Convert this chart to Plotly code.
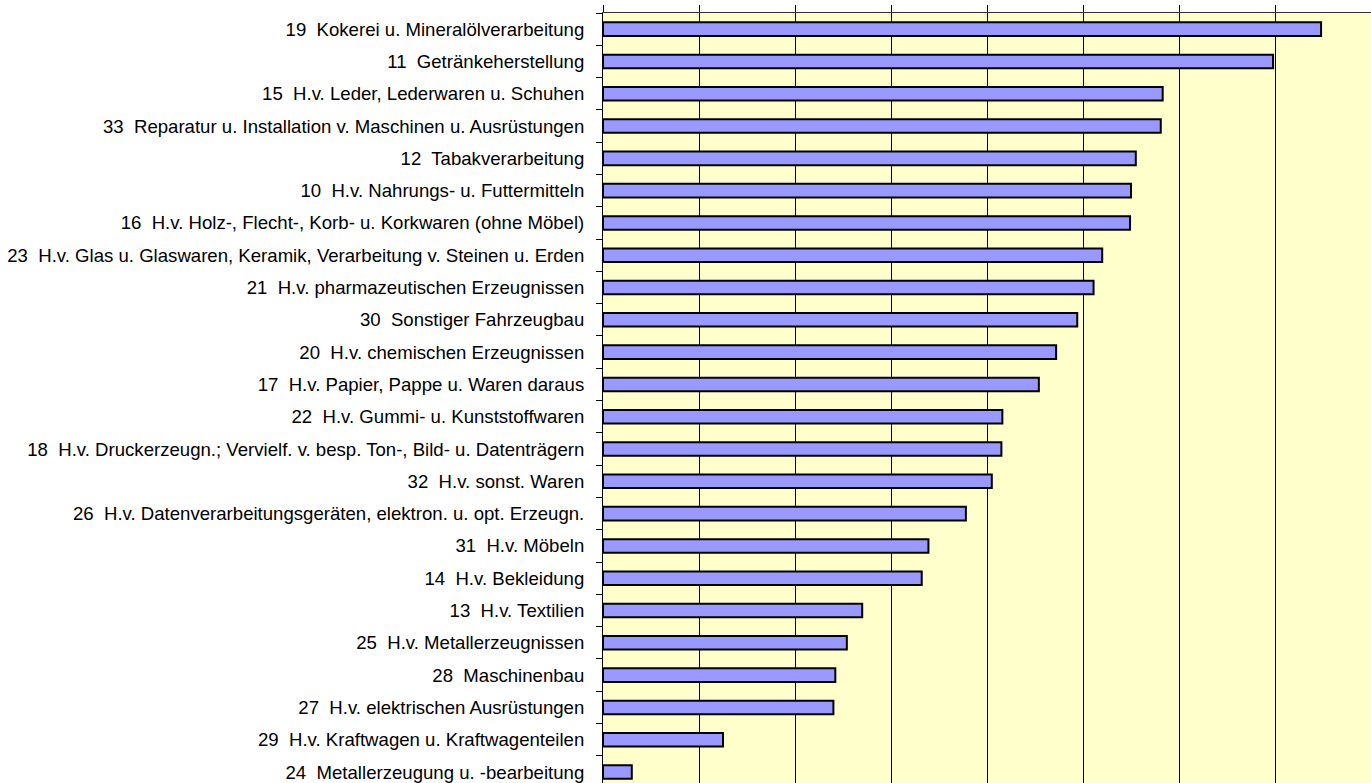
import plotly.graph_objects as go

categories = [
    "19  Kokerei u. Mineralölverarbeitung",
    "11  Getränkeherstellung",
    "15  H.v. Leder, Lederwaren u. Schuhen",
    "33  Reparatur u. Installation v. Maschinen u. Ausrüstungen",
    "12  Tabakverarbeitung",
    "10  H.v. Nahrungs- u. Futtermitteln",
    "16  H.v. Holz-, Flecht-, Korb- u. Korkwaren (ohne Möbel)",
    "23  H.v. Glas u. Glaswaren, Keramik, Verarbeitung v. Steinen u. Erden",
    "21  H.v. pharmazeutischen Erzeugnissen",
    "30  Sonstiger Fahrzeugbau",
    "20  H.v. chemischen Erzeugnissen",
    "17  H.v. Papier, Pappe u. Waren daraus",
    "22  H.v. Gummi- u. Kunststoffwaren",
    "18  H.v. Druckerzeugn.; Vervielf. v. besp. Ton-, Bild- u. Datenträgern",
    "32  H.v. sonst. Waren",
    "26  H.v. Datenverarbeitungsgeräten, elektron. u. opt. Erzeugn.",
    "31  H.v. Möbeln",
    "14  H.v. Bekleidung",
    "13  H.v. Textilien",
    "25  H.v. Metallerzeugnissen",
    "28  Maschinenbau",
    "27  H.v. elektrischen Ausrüstungen",
    "29  H.v. Kraftwagen u. Kraftwagenteilen",
    "24  Metallerzeugung u. -bearbeitung",
]

values = [74.8, 69.8, 58.3, 58.1, 55.5, 55.0, 54.9, 52.0, 51.1, 49.4,
          47.2, 45.4, 41.6, 41.5, 40.5, 37.8, 33.9, 33.2, 27.0, 25.4,
          24.2, 24.0, 12.5, 3.0]

fig = go.Figure(
    go.Bar(
        x=values,
        y=categories,
        orientation="h",
        width=0.42,
        marker=dict(color="#9999FF", line=dict(color="#000000", width=2)),
        hoverinfo="x+y",
    )
)

fig.update_layout(
    width=1371,
    height=783,
    margin=dict(l=603, r=0, t=13, b=0, autoexpand=False),
    paper_bgcolor="#FFFFFF",
    plot_bgcolor="#FFFFCC",
    showlegend=False,
    font=dict(family="Liberation Sans, Arial, sans-serif", size=18, color="#000000"),
)

fig.update_xaxes(
    side="top",
    range=[0, 80],
    dtick=10,
    tick0=0,
    showticklabels=False,
    ticks="outside",
    ticklen=7,
    tickcolor="#000000",
    showgrid=True,
    gridcolor="#000000",
    gridwidth=1,
    showline=True,
    linecolor="#333333",
    linewidth=1,
    zeroline=False,
    fixedrange=True,
)

fig.update_yaxes(
    type="category",
    range=[23.34, -0.5],
    autorange=False,
    tickson="boundaries",
    ticks="outside",
    ticklen=6,
    tickcolor="#000000",
    showline=True,
    linecolor="#000000",
    linewidth=1,
    showgrid=False,
    ticklabelstandoff=14,
    tickfont=dict(family="Liberation Sans, Arial, sans-serif", size=18.6, color="#000000"),
    fixedrange=True,
)

fig.write_html(
    "out.html",
    config={"displayModeBar": False},
    post_script="document.body.style.margin='0';document.body.style.overflow='hidden';",
)
